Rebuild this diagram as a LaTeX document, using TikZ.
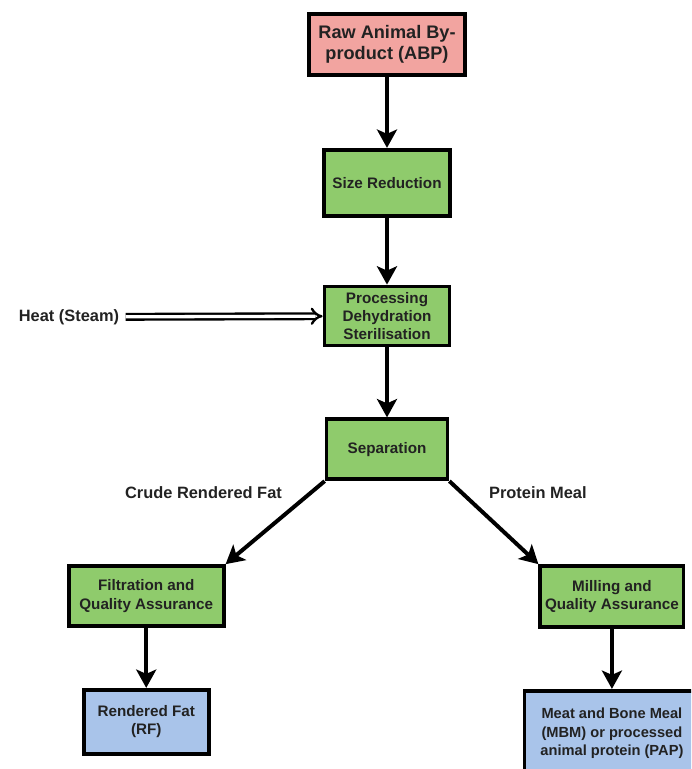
\documentclass[tikz,border=0pt]{standalone}
\usepackage{fontspec}
\setmainfont{Liberation Sans}
\usetikzlibrary{arrows.meta,positioning}
\definecolor{rawpink}{HTML}{F2A4A0}
\definecolor{stepgreen}{HTML}{8FCB6C}
\definecolor{endblue}{HTML}{A9C4EA}
\definecolor{ink}{HTML}{222222}

\begin{document}
\begin{tikzpicture}[x=0.03cm,y=-0.03cm,
  box/.style={draw=black,line width=3.2pt,align=center,text=ink,inner sep=2pt,font=\fontsize{13}{15.5}\selectfont\bfseries},
  flow/.style={-{Stealth[length=5.5mm,width=6mm,inset=1.3mm]},line width=3.4pt},
  steam/.style={-{Implies[length=2.8mm,width=6mm]},double,line width=2pt,double distance=2.8pt,shorten <=2pt},
  lbl/.style={text=ink,font=\fontsize{14}{16}\selectfont\bfseries}]
\useasboundingbox (0,0) rectangle (691,769);
\clip (0,0) rectangle (691,769);
\node[box,fill=rawpink,minimum width=4.7cm,minimum height=1.83cm,font=\fontsize{15.5}{18}\selectfont\bfseries] (abp) at (387,44.5) {Raw Animal By-\\product (ABP)};
\node[box,fill=stepgreen,below=2.13cm of abp,minimum width=3.78cm,minimum height=1.98cm] (size) {Size Reduction};
\node[box,fill=stepgreen,below=2.01cm of size,minimum width=3.75cm,minimum height=1.77cm] (proc) {Processing\\Dehydration\\Sterilisation};
\node[box,fill=stepgreen,below=2.1cm of proc,minimum width=3.63cm,minimum height=1.8cm] (sep) {Separation};
\node[box,fill=stepgreen,below left=2.49cm and 2.97cm of sep,minimum width=4.65cm,minimum height=1.8cm] (filt) {Filtration and\\Quality Assurance};
\node[box,fill=stepgreen,below right=2.49cm and 2.67cm of sep,minimum width=4.3cm,minimum height=1.83cm] (mill) {Milling and\\Quality Assurance};
\node[box,fill=endblue,below=1.8cm of filt,minimum width=3.75cm,minimum height=1.92cm] (rf) {Rendered Fat\\(RF)};
\node[box,fill=endblue,below=1.8cm of mill,minimum width=5.25cm,minimum height=2.55cm,font=\fontsize{12.5}{15.5}\selectfont\bfseries] (mbm) {Meat and Bone Meal\\(MBM) or processed\\animal protein (PAP)};
\node[lbl] (heat) at (69,317) {Heat (Steam)};
\node[lbl,anchor=east] (fatlbl) at (286,493) {Crude Rendered Fat};
\node[lbl,anchor=west] (meallbl) at (485,493) {Protein Meal};
\draw[flow] (abp)--(size);
\draw[flow] (size)--(proc);
\draw[flow] (proc)--(sep);
\draw[steam] (heat)--(proc);
\draw[flow] (sep.south west)--(filt.north east);
\draw[flow] (sep.south east)--(mill.north west);
\draw[flow] (filt)--(rf);
\draw[flow] (mill)--(mbm);
\end{tikzpicture}
\end{document}
